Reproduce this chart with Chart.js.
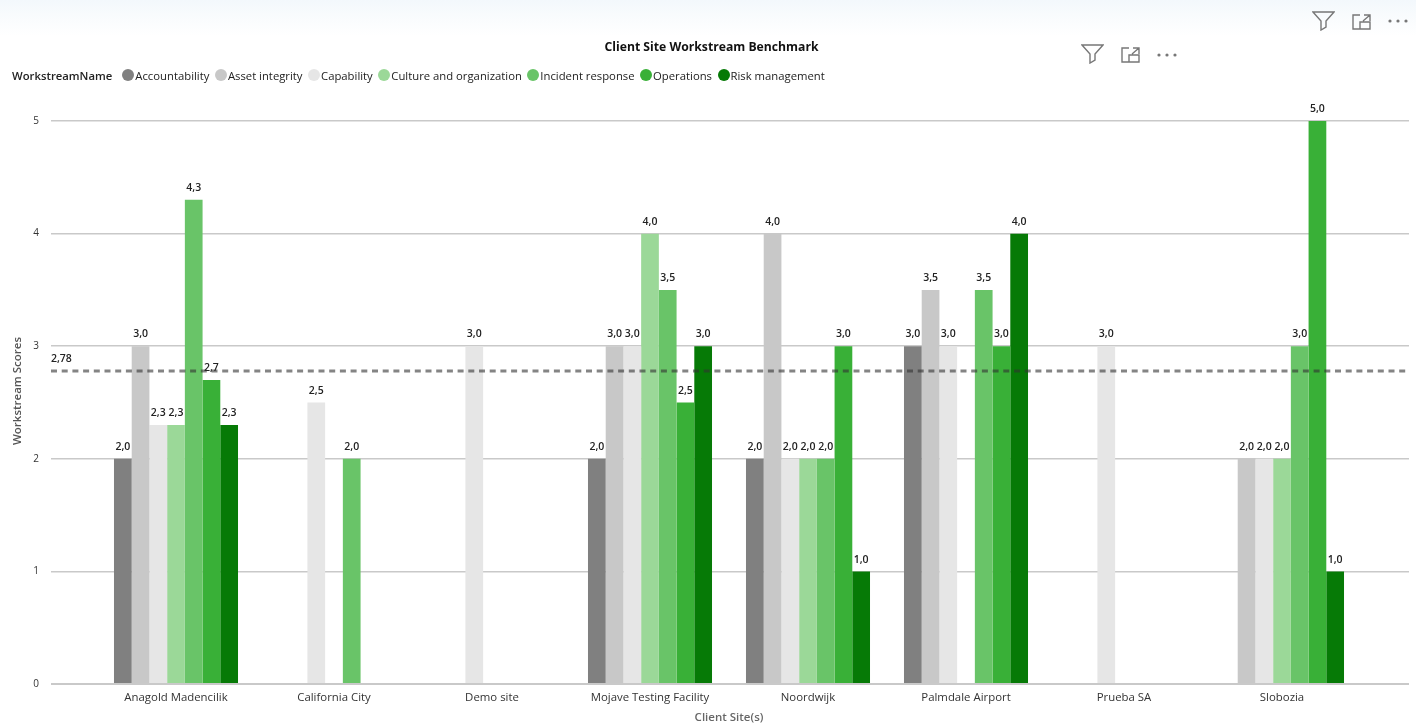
<!DOCTYPE html>
<html>
<head>
<meta charset="utf-8">
<title>Client Site Workstream Benchmark</title>
<script src="https://cdn.jsdelivr.net/npm/chart.js@4"></script>
<style>
  html, body { margin: 0; padding: 0; }
  body {
    width: 1416px; height: 725px; overflow: hidden; position: relative;
    background: linear-gradient(#f3f8fc 0, #f8fbfd 14px, #fff 36px);
    font-family: "Open Sans", sans-serif; color: #222;
  }
  #myChart { position: absolute; left: 0; top: 0; }
  .legend {
    position: absolute; left: 12px; top: 67px; height: 16px;
    display: flex; align-items: center; font-size: 11.3px; white-space: nowrap;
  }
  .legend .name { margin-right: 10px; font-weight: 600; }
  .legend .dot { width: 12px; height: 12px; border-radius: 50%; margin: 0 1px 0 0; }
  .legend .item { margin-right: 5.5px; }
  .icon { position: absolute; fill: none; stroke: #777; stroke-width: 1.4; }
</style>
</head>
<body>
<canvas id="myChart" width="1416" height="725"></canvas>
<div class="legend" id="legend"></div>
<script>
var sites = ['Anagold Madencilik', 'California City', 'Demo site', 'Mojave Testing Facility', 'Noordwijk', 'Palmdale Airport', 'Prueba SA', 'Slobozia'];

var accountability = [2.0, null, null, 2.0, 2.0, 3.0, null, null];
var assetIntegrity = [3.0, null, null, 3.0, 4.0, 3.5, null, 2.0];
var capability     = [2.3, 2.5, 3.0, 3.0, 2.0, 3.0, 3.0, 2.0];
var culture        = [2.3, null, null, 4.0, 2.0, null, null, 2.0];
var incident       = [4.3, 2.0, null, 3.5, 2.0, 3.5, null, 3.0];
var operations     = [2.7, null, null, 2.5, 3.0, 3.0, null, 5.0];
var riskManagement = [2.3, null, null, 3.0, 1.0, 4.0, null, 1.0];

var averageScore = 2.78;
var scoreTicks = [0, 1, 2, 3, 4, 5];

var seriesNames = ['Accountability', 'Asset integrity', 'Capability', 'Culture and organization', 'Incident response', 'Operations', 'Risk management'];
var seriesValues = [accountability, assetIntegrity, capability, culture, incident, operations, riskManagement];
var seriesColors = ['#808080', '#c8c8c8', '#e6e6e6', '#9bd898', '#69c468', '#39b037', '#067a06'];

var gridColor = '#c9c9c9';

function comma(v, digits) {
  return v.toFixed(digits).replace('.', ',');
}

function gridWidth(context) {
  return context.tick && context.tick.value === 0 ? 2 : 1.5;
}

// legend row
var legend = document.getElementById('legend');
legend.innerHTML = '<span class="name">WorkstreamName</span>' + seriesNames.map(function(name, i) {
  return '<span class="dot" style="background:' + seriesColors[i] + '"></span><span class="item">' + name + '</span>';
}).join('');

// toolbar icons, two sets
function addIcons(filterX, filterY, focusX, focusY, dotsX, dotsY) {
  var html =
    '<svg class="icon" style="left:' + filterX + 'px;top:' + filterY + 'px" width="23" height="20" viewBox="0 0 23 20"><path d="M1 1H22L14 10V16L9 19V10Z"/></svg>' +
    '<svg class="icon" style="left:' + focusX + 'px;top:' + focusY + 'px" width="21" height="18" viewBox="0 0 21 18"><path d="M9 2H2V16H19V9H9V16M13 2H19V8M19 2L12 8"/></svg>' +
    '<svg class="icon" style="left:' + dotsX + 'px;top:' + dotsY + 'px;fill:#777;stroke:none" width="21" height="4" viewBox="0 0 21 4"><circle cx="2" cy="2" r="1.6"/><circle cx="10" cy="2" r="1.6"/><circle cx="18" cy="2" r="1.6"/></svg>';
  document.body.insertAdjacentHTML('beforeend', html);
}
addIcons(1312, 11, 1351, 13, 1388, 19);
addIcons(1081, 44, 1120, 46, 1157, 53);

// value labels, the average line and the rotated axis title
var overlay = {
  id: 'overlay',
  afterDatasetsDraw: function(chart) {
    var ctx = chart.ctx;
    var y = chart.scales.y;
    var area = chart.chartArea;

    ctx.save();
    ctx.font = '600 10.5px "Open Sans"';
    ctx.fillStyle = '#222';
    ctx.textAlign = 'center';
    ctx.textBaseline = 'bottom';
    chart.data.datasets.forEach(function(ds, i) {
      chart.getDatasetMeta(i).data.forEach(function(bar, j) {
        if (ds.data[j] !== null) ctx.fillText(comma(ds.data[j], 1), bar.x, bar.y - 6.5);
      });
    });

    var avgY = y.getPixelForValue(averageScore);
    ctx.strokeStyle = 'rgba(50, 50, 50, 0.6)';
    ctx.lineWidth = 3;
    ctx.setLineDash([6, 4.7]);
    ctx.beginPath();
    ctx.moveTo(area.left - 46, avgY);
    ctx.lineTo(area.right + 48, avgY);
    ctx.stroke();
    ctx.setLineDash([]);

    ctx.textAlign = 'left';
    ctx.fillText(comma(averageScore, 2), area.left - 46, avgY - 7);

    ctx.translate(18, 391);
    ctx.rotate(-Math.PI / 2);
    ctx.textAlign = 'center';
    ctx.textBaseline = 'middle';
    ctx.font = '600 11.5px "Open Sans"';
    ctx.fillStyle = '#555';
    ctx.fillText('Workstream Scores', 0, 0);
    ctx.restore();
  }
};

var chart1 = document.getElementById('myChart').getContext('2d');

new Chart(chart1, {
  type: 'bar',
  plugins: [overlay],
  data: {
    labels: sites,
    datasets: seriesNames.map(function(name, i) {
      return { label: name, data: seriesValues[i], backgroundColor: seriesColors[i], categoryPercentage: 0.785, barPercentage: 1 };
    })
  },
  options: {
    responsive: false,
    animation: false,
    layout: { padding: { left: 7, right: 0, top: 0, bottom: 0 } },
    plugins: {
      legend: { display: false },
      tooltip: { enabled: false },
      title: {
        display: true,
        text: 'Client Site Workstream Benchmark',
        color: '#111',
        font: { family: '"Open Sans"', size: 12.2, weight: 'bold' },
        padding: { top: 40, bottom: 66.4 }
      }
    },
    scales: {
      x: {
        afterFit: function(scale) { scale.height = 41; },
        grid: { display: false },
        border: { display: false },
        ticks: { color: '#333', font: { family: '"Open Sans"', size: 11.4 }, padding: -1, maxRotation: 0 },
        title: { display: true, text: 'Client Site(s)', color: '#666', font: { family: '"Open Sans"', size: 11.5, weight: '600' }, padding: { top: 3, bottom: 0 } }
      },
      y: {
        min: 0,
        max: 5,
        afterFit: function(scale) { scale.width = 90; },
        afterBuildTicks: function(scale) { scale.ticks = scoreTicks.map(function(v) { return { value: v }; }); },
        border: { display: false },
        grid: { color: gridColor, tickColor: gridColor, tickLength: 46, lineWidth: gridWidth },
        ticks: { color: '#333', font: { family: '"Open Sans"', size: 10 }, padding: 12 }
      },
      // no labels, only carries the grid lines out past the last group
      yRight: {
        position: 'right',
        min: 0,
        max: 5,
        afterFit: function(scale) { scale.width = 55; },
        afterBuildTicks: function(scale) { scale.ticks = scoreTicks.map(function(v) { return { value: v }; }); },
        border: { display: false },
        grid: { drawOnChartArea: false, tickColor: gridColor, tickLength: 48, lineWidth: gridWidth },
        ticks: { display: false }
      }
    }
  }
});
</script>
</body>
</html>
